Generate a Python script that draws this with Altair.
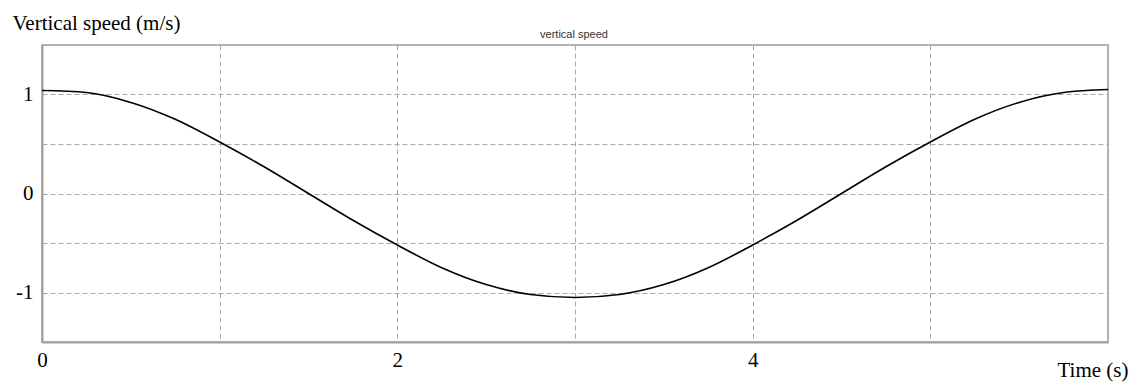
import altair as alt
import pandas as pd

# Time (s) and vertical speed (m/s)
time_s = [0, 0.25, 0.5, 0.75, 1, 1.25, 1.5, 1.75, 2, 2.25, 2.5, 2.75, 3,
          3.25, 3.5, 3.75, 4, 4.25, 4.5, 4.75, 5, 5.25, 5.5, 5.75, 6]
speed = [1.04, 1.02, 0.92, 0.75, 0.52, 0.27, 0.0, -0.27, -0.52, -0.75, -0.92, -1.02, -1.05,
         -1.02, -0.92, -0.75, -0.52, -0.27, 0.0, 0.27, 0.52, 0.75, 0.92, 1.02, 1.05]

x_grid = [0, 1, 2, 3, 4, 5, 6]
y_grid = [-1.5, -1, -0.5, 0, 0.5, 1, 1.5]
chart_title = ["vertical speed"]

df = pd.DataFrame({"t": time_s, "v": speed})
tdf = pd.DataFrame({"label": chart_title})

serif = "Liberation Serif"
fs = 21

line = alt.Chart(df).mark_line(
    color="black", strokeWidth=1.6, interpolate="monotone", clip=True
).encode(
    x=alt.X("t:Q", scale=alt.Scale(domain=[0, 6], nice=False, zero=False),
            axis=alt.Axis(values=x_grid, title="Time (s)",
                          labelExpr="(datum.value == 0 || datum.value == 2 || datum.value == 4) ? datum.label : ''",
                          ticks=False, labelPadding=7, labelFont=serif, labelFontSize=fs,
                          labelColor="black", labelFlush=False,
                          titleFont=serif, titleFontSize=fs, titleFontWeight="normal",
                          titleColor="black", titleAnchor="end", titleAlign="right",
                          titleX=1086, titleY=34, titleBaseline="alphabetic",
                          grid=True, gridDash=[5, 3], gridColor="#a8a8a8", gridWidth=1,
                          domainColor="#a0a0a0", domainWidth=2)),
    y=alt.Y("v:Q", scale=alt.Scale(domain=[-1.5, 1.5], nice=False, zero=False),
            axis=alt.Axis(values=y_grid, title="Vertical speed (m/s)",
                          labelExpr="(datum.value == 1 || datum.value == 0 || datum.value == -1) ? toString(datum.value) : ''",
                          ticks=False, labelPadding=9, labelFont=serif, labelFontSize=fs,
                          labelColor="black",
                          titleFont=serif, titleFontSize=fs, titleFontWeight="normal",
                          titleColor="black", titleAngle=0, titleAlign="left",
                          titleX=-30, titleY=-16, titleBaseline="alphabetic",
                          grid=True, gridDash=[5, 3], gridColor="#a8a8a8", gridWidth=1,
                          domainColor="#a0a0a0", domainWidth=2)),
)

title = alt.Chart(tdf).mark_text(
    font="Liberation Sans", fontSize=11, color="#333333", align="center",
    baseline="alphabetic", clip=False
).encode(
    text="label:N", x=alt.value(532), y=alt.value(-7)
)

chart = alt.layer(line, title).properties(
    width=1066, height=297,
    autosize=alt.AutoSizeParams(type="none"),
    padding={"left": 42, "top": 45, "right": 35, "bottom": 41},
).configure_view(stroke="#a0a0a0", strokeWidth=1.5)

chart.save("out.html", embed_options={"renderer": "svg", "actions": False})
